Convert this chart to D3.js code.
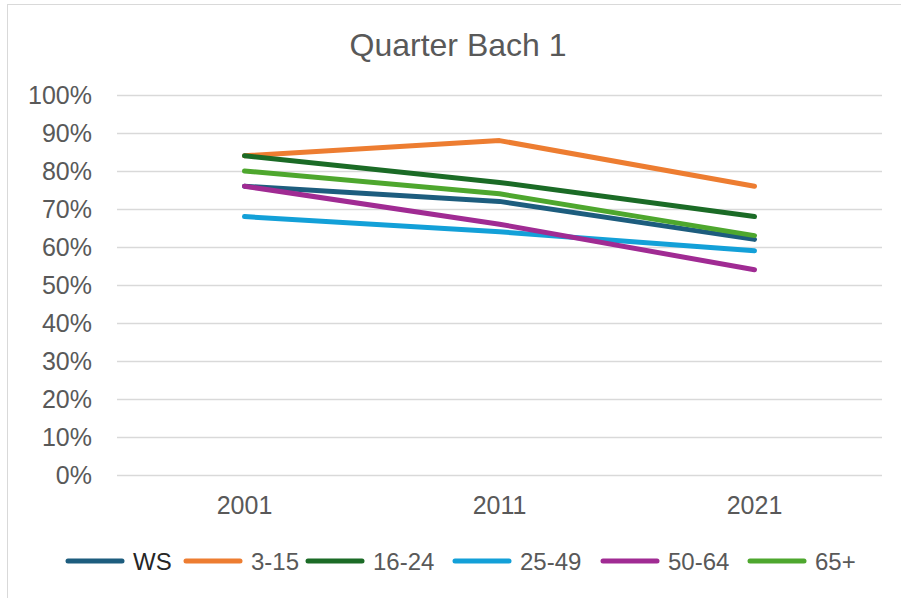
<!DOCTYPE html>
<html>
<head>
<meta charset="utf-8">
<script src="https://cdn.jsdelivr.net/npm/d3@7"></script>
<style>
  body { margin: 0; background: #fff; }
  text { font-family: 'Liberation Sans', Arial, sans-serif; fill: #595959; }
</style>
</head>
<body>
<div class="svg-container"></div>
<script>
const width = 901;
const height = 598;
const margin = { top: 95, right: 19, bottom: 123, left: 117 };

// chart data
const years = ['2001', '2011', '2021'];
const seriesNames = ['WS', '3-15', '16-24', '25-49', '50-64', '65+'];
const ws = [76, 72, 62];
const age3to15 = [84, 88, 76];
const age16to24 = [84, 77, 68];
const age25to49 = [68, 64, 59];
const age50to64 = [76, 66, 54];
const age65plus = [80, 74, 63];
const yTicks = [0, 10, 20, 30, 40, 50, 60, 70, 80, 90, 100];
const colors = ['#1d5d7e', '#ed7d31', '#1b6b26', '#13a0d8', '#a02b93', '#4ea72e'];

const seriesValues = [ws, age3to15, age16to24, age25to49, age50to64, age65plus];
const series = seriesNames.map((name, i) => ({ name: name, color: colors[i], values: seriesValues[i] }));

const svg = d3.select('.svg-container')
    .append('svg')
    .attr('width', width)
    .attr('height', height);

// outer chart border (cropped on right and bottom)
svg.append('rect')
    .attr('x', 7.5)
    .attr('y', 4.5)
    .attr('width', width + 10)
    .attr('height', height + 10)
    .attr('fill', 'none')
    .attr('stroke', '#d9d9d9');

const plotW = width - margin.left - margin.right;
const plotH = height - margin.top - margin.bottom;
const g = svg.append('g').attr('transform', `translate(${margin.left},${margin.top})`);

const x = d3.scaleBand().domain(years).range([0, plotW]).padding(0);
const y = d3.scaleLinear().domain([0, 100]).range([plotH, 0]);

// gridlines
g.append('g')
    .selectAll('line')
    .data(yTicks)
    .enter()
    .append('line')
    .attr('x1', 0)
    .attr('x2', plotW)
    .attr('y1', (d) => Math.round(y(d)) + 0.5)
    .attr('y2', (d) => Math.round(y(d)) + 0.5)
    .attr('stroke', '#d9d9d9')
    .attr('stroke-width', 1.3);

// y axis labels
const yAxis = g.append('g')
    .call(d3.axisLeft(y).tickValues(yTicks).tickFormat((d) => d + '%').tickSize(0).tickPadding(25));
yAxis.select('.domain').remove();
yAxis.selectAll('text')
    .style('font-family', "'Liberation Sans', Arial, sans-serif")
    .style('font-size', '25px')
    .attr('fill', '#595959');

// x axis labels
const xAxis = g.append('g')
    .attr('transform', `translate(0,${plotH})`)
    .call(d3.axisBottom(x).tickSize(0).tickPadding(21));
xAxis.select('.domain').remove();
xAxis.selectAll('text')
    .style('font-family', "'Liberation Sans', Arial, sans-serif")
    .style('font-size', '25px')
    .attr('fill', '#595959');

// lines
const line = d3.line()
    .x((d, i) => x(years[i]) + x.bandwidth() / 2)
    .y((d) => y(d));

g.selectAll('.series')
    .data(series)
    .enter()
    .append('path')
    .attr('class', 'series')
    .attr('d', (d) => line(d.values))
    .attr('fill', 'none')
    .attr('stroke', (d) => d.color)
    .attr('stroke-width', 5)
    .attr('stroke-linecap', 'round')
    .attr('stroke-linejoin', 'round');

// title
svg.append('text')
    .attr('x', 458)
    .attr('y', 56)
    .attr('text-anchor', 'middle')
    .style('font-size', '32px')
    .text('Quarter Bach 1');

// legend
const legendX = [68, 186, 308, 455, 603, 750];
const legend = svg.append('g').attr('transform', 'translate(0,561)');
const items = legend.selectAll('.legend-item')
    .data(series)
    .enter()
    .append('g')
    .attr('class', 'legend-item')
    .attr('transform', (d, i) => `translate(${legendX[i]},0)`);
items.append('line')
    .attr('x1', 0)
    .attr('x2', 54)
    .attr('stroke', (d) => d.color)
    .attr('stroke-width', 5)
    .attr('stroke-linecap', 'round');
items.append('text')
    .attr('x', 65)
    .attr('y', 9)
    .style('font-size', '24px')
    .style('fill', (d) => (d.name === 'WS' ? '#262626' : '#595959'))
    .text((d) => d.name);
</script>
</body>
</html>
